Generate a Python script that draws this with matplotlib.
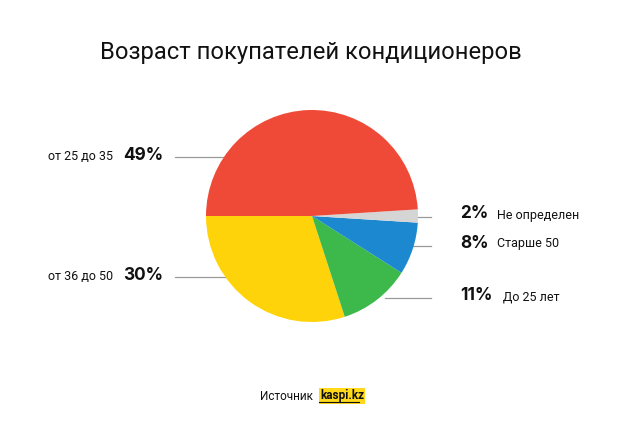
import matplotlib
matplotlib.use("Agg")
import matplotlib.pyplot as plt

plt.rcParams['font.family'] = ['Roboto', 'DejaVu Sans']

title = "Возраст покупателей кондиционеров"
categories = ["от 36 до 50", "До 25 лет", "Старше 50", "Не определен", "от 25 до 35"]
values = [30, 11, 8, 2, 49]
colors = ["#FFD30A", "#3DB94C", "#1C88D0", "#D5D5D5", "#EF4A37"]

W, H = 624, 433
fig = plt.figure(figsize=(W / 100, H / 100), dpi=100)
ax = fig.add_axes([0, 0, 1, 1])
ax.set_xlim(0, W)
ax.set_ylim(0, H)
ax.set_aspect('equal')
ax.axis('off')

cx, cy, r = 312, H - 216, 106

def Y(py):
    return H - py

# leader lines (drawn under pie)
line_c = "#9a9a9a"
ax.plot([175, 240], [Y(157), Y(157)], color=line_c, lw=0.9, zorder=1)
ax.plot([175, 240], [Y(277), Y(277)], color=line_c, lw=0.9, zorder=1)
ax.plot([400, 431], [Y(217), Y(217)], color=line_c, lw=0.9, zorder=1)
ax.plot([400, 431], [Y(246), Y(246)], color=line_c, lw=0.9, zorder=1)
ax.plot([385, 431], [Y(298), Y(298)], color=line_c, lw=0.9, zorder=1)

wedges, _ = ax.pie(values, colors=colors, startangle=180, counterclock=True,
                   center=(cx, cy), radius=r, frame=True,
                   wedgeprops=dict(linewidth=0, zorder=2))
ax.set_xlim(0, W)
ax.set_ylim(0, H)
ax.axis('off')

ax.text(311, Y(53), title, ha='center', va='center', fontsize=17.1, color='#111111')

lab_fs = 9
pct_fs = 12.4
pct_font = ['Inter', 'DejaVu Sans']
# left labels
ax.text(113, Y(157), categories[4], ha='right', va='center', fontsize=lab_fs, color='#111')
ax.text(123, Y(156), f"{values[4]}%", ha='left', va='center', fontsize=pct_fs, fontweight='bold',
        family=pct_font, color='#111')
ax.text(113, Y(276), categories[0], ha='right', va='center', fontsize=lab_fs, color='#111')
ax.text(123, Y(275), f"{values[0]}%", ha='left', va='center', fontsize=pct_fs, fontweight='bold',
        family=pct_font, color='#111')

# right labels
ax.text(460, Y(214), f"{values[3]}%", ha='left', va='center', fontsize=pct_fs, fontweight='bold',
        family=pct_font, color='#111')
ax.text(497, Y(215), categories[3], ha='left', va='center', fontsize=lab_fs, color='#111')
ax.text(460, Y(243), f"{values[2]}%", ha='left', va='center', fontsize=pct_fs, fontweight='bold',
        family=pct_font, color='#111')
ax.text(497, Y(244), categories[2], ha='left', va='center', fontsize=lab_fs, color='#111')
ax.text(460, Y(296), f"{values[1]}%", ha='left', va='center', fontsize=pct_fs, fontweight='bold',
        family=pct_font, color='#111')
ax.text(503, Y(297), categories[1], ha='left', va='center', fontsize=lab_fs, color='#111')

# source
ax.text(313, Y(396), "Источник", ha='right', va='center', fontsize=8.5, color='#111')
ax.text(320, Y(396), "kaspi.kz", ha='left', va='center', fontsize=8.5, fontweight='bold',
        color='#111', bbox=dict(boxstyle='square,pad=0.12', fc='#FFD91A', ec='none'))
ax.plot([319, 359], [Y(402), Y(402)], color='#111', lw=0.8, zorder=5)

fig.savefig("out.png", dpi=100, facecolor='white')
